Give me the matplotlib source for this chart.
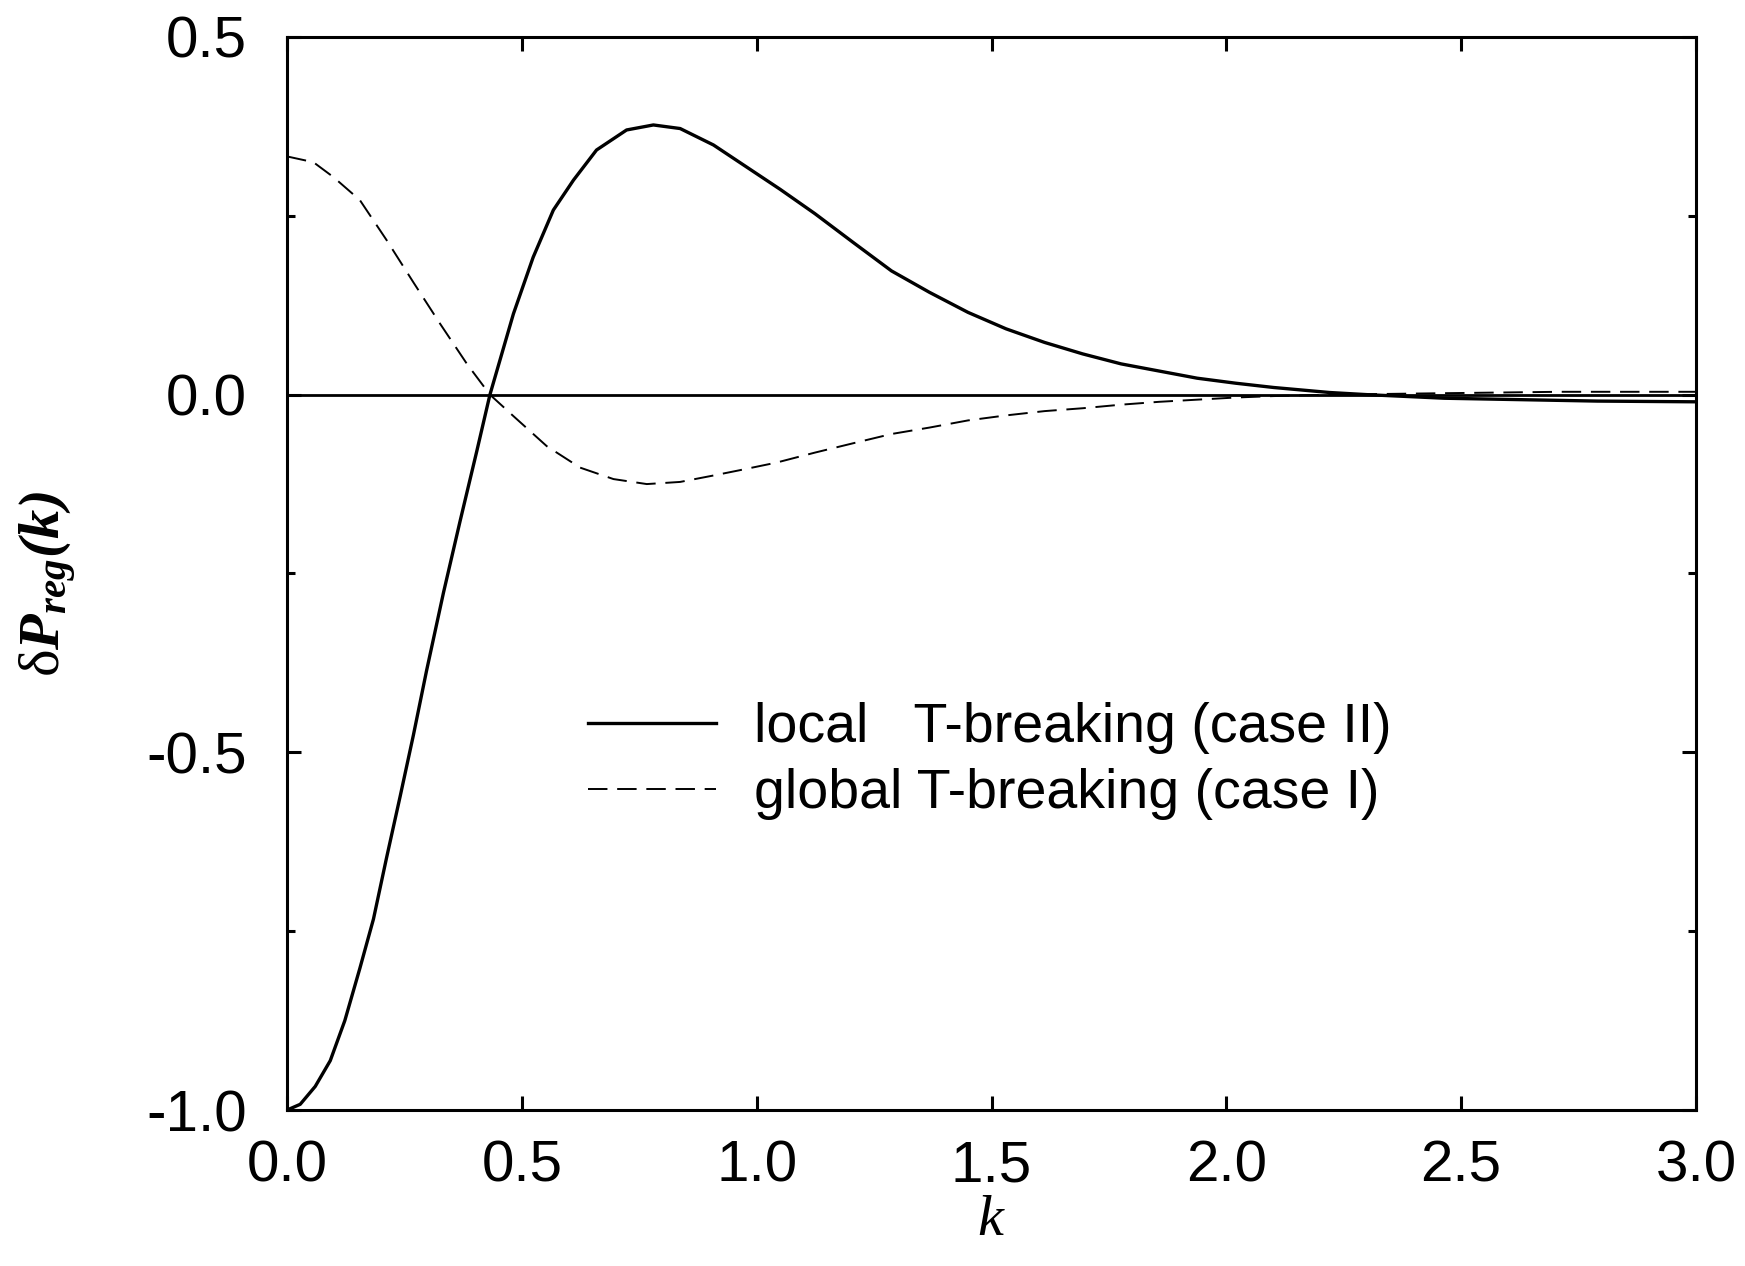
import matplotlib
matplotlib.use('Agg')
import matplotlib.pyplot as plt
from matplotlib.ticker import MultipleLocator, FormatStrFormatter

# values: local T-breaking (case II)
k_local = [0, 0.028, 0.060, 0.092, 0.123, 0.155, 0.184, 0.212, 0.241, 0.269, 0.297,
           0.333, 0.368, 0.404, 0.432, 0.482, 0.524, 0.567, 0.610, 0.659, 0.723, 0.780,
           0.837, 0.908, 0.979, 1.05, 1.124, 1.205, 1.287, 1.368, 1.450, 1.531, 1.613,
           1.694, 1.776, 1.857, 1.938, 2.020, 2.101, 2.220, 2.30, 2.464, 2.627, 2.79, 3.0]
p_local = [-1.0, -0.992, -0.967, -0.931, -0.875, -0.802, -0.733, -0.647, -0.561, -0.476,
           -0.386, -0.277, -0.178, -0.079, 0.0, 0.113, 0.192, 0.258, 0.300, 0.342, 0.370,
           0.377, 0.372, 0.349, 0.318, 0.287, 0.253, 0.213, 0.173, 0.143, 0.115, 0.092,
           0.073, 0.057, 0.043, 0.033, 0.023, 0.016, 0.010, 0.003, 0.0, -0.005, -0.007,
           -0.009, -0.010]

# global T-breaking (case I)
k_global = [0, 0.056, 0.099, 0.155, 0.212, 0.269, 0.326, 0.383, 0.432, 0.482, 0.553,
            0.624, 0.695, 0.766, 0.837, 0.908, 0.961, 1.042, 1.124, 1.205, 1.287, 1.368,
            1.450, 1.531, 1.613, 1.694, 1.776, 1.857, 1.938, 2.02, 2.1, 2.22, 2.46, 2.71, 3.0]
p_global = [0.333, 0.325, 0.304, 0.272, 0.216, 0.157, 0.099, 0.043, 0.0, -0.030, -0.072,
            -0.102, -0.118, -0.125, -0.122, -0.113, -0.106, -0.095, -0.081, -0.068, -0.055,
            -0.046, -0.036, -0.029, -0.023, -0.019, -0.014, -0.010, -0.007, -0.004, -0.002,
            0.0, 0.002, 0.004, 0.004]

labels = ['local   T-breaking (case II)', 'global T-breaking (case I)']


def main():

    # fonts: arial-like numbers, times-like axis labels
    plt.rcParams['font.family'] = ['Liberation Sans', 'DejaVu Sans']
    plt.rcParams['axes.unicode_minus'] = False
    plt.rcParams['mathtext.fontset'] = 'custom'
    plt.rcParams['mathtext.rm'] = 'Liberation Serif'
    plt.rcParams['mathtext.it'] = 'Liberation Serif:italic'
    plt.rcParams['mathtext.bf'] = 'Liberation Serif:bold'
    plt.rcParams['mathtext.bfit'] = 'Liberation Serif:bold:italic'

    f = plt.figure(figsize=(17.45, 12.66), dpi=100)
    ax = f.add_axes([0.1645, 0.1232, 0.8074, 0.8476])

    # the curves and the zero reference line
    ax.axhline(0, color='k', lw=2.0, zorder=1)
    ax.plot(k_local, p_local, color='k', lw=2.4, label=labels[0])
    ax.plot(k_global, p_global, color='k', lw=1.4, dashes=(10, 5), label=labels[1])

    # axis aesthetics
    ax.set(xlim=(0, 3), ylim=(-1.0, 0.5))
    ax.xaxis.set_major_locator(MultipleLocator(0.5))
    ax.yaxis.set_major_locator(MultipleLocator(0.5))
    ax.yaxis.set_minor_locator(MultipleLocator(0.25))
    ax.xaxis.set_major_formatter(FormatStrFormatter('%.1f'))
    ax.yaxis.set_major_formatter(FormatStrFormatter('%.1f'))
    ax.tick_params(which='both', direction='in', top=True, right=True, width=2.2, colors='k')
    ax.tick_params(which='major', length=10, labelsize=42)
    ax.tick_params(which='minor', length=6)
    ax.tick_params(axis='x', which='major', pad=21)
    ax.tick_params(axis='y', which='major', pad=29)
    for s in ax.spines.values():
        s.set_linewidth(2.2)

    ax.set_xlabel(r'$k$', fontsize=42, labelpad=0)
    ax.set_ylabel(r'$\mathrm{\delta}\mathbfit{P}_{\mathbfit{reg}}\mathbfit{(k)}$', fontsize=42)
    ax.yaxis.set_label_coords(-0.148, 0.49)

    # legend without frame in the lower middle
    ax.legend(loc='center left', bbox_to_anchor=(0.2136, 0.325), frameon=False,
              fontsize=40, handlelength=2.3, handletextpad=0.68, labelspacing=0.25,
              borderpad=0, borderaxespad=0)

    f.savefig('out.png', dpi=100)


if __name__ == '__main__':
    main()
